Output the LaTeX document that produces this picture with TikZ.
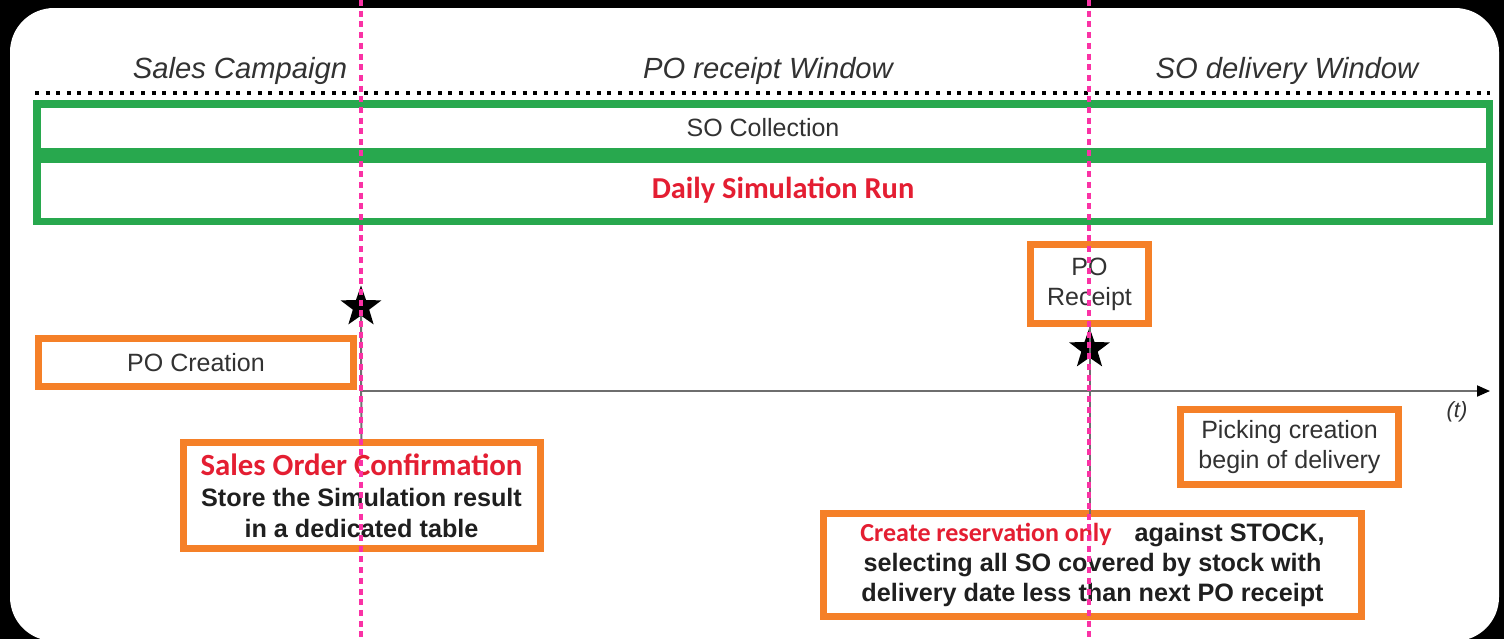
\documentclass[tikz,border=0pt]{standalone}
\usepackage{fontspec}
\setmainfont{Liberation Sans}
\newfontfamily\calibri{Carlito}
\usepackage{tikz}
\usetikzlibrary{arrows.meta}
\usetikzlibrary{positioning}
\usetikzlibrary{shapes.geometric}

\definecolor{campgreen}{RGB}{40,168,78}
\definecolor{taskorange}{RGB}{245,128,40}
\definecolor{markpink}{RGB}{250,50,165}
\definecolor{alertred}{RGB}{228,30,50}
\definecolor{textgray}{RGB}{50,50,50}
\definecolor{axisgray}{RGB}{110,110,110}

\begin{document}
\begin{tikzpicture}[x=0.5pt,y=-0.5pt,
  green box/.style={draw=campgreen,line width=3.75pt,outer sep=0pt,inner sep=0pt,minimum width=726.25pt},
  orange box/.style={draw=taskorange,line width=3.5pt,fill=white,outer sep=0pt,inner sep=0pt,align=center},
  phase/.style={anchor=base,text=textgray,font=\fontsize{14.6}{17}\selectfont\itshape},
  plain text/.style={text=textgray,font=\fontsize{12.5}{15}\selectfont},
  bold text/.style={text=black!88,font=\fontsize{12.6}{15.5}\selectfont\bfseries},
  milestone/.style={star,star points=5,star point ratio=2.5,fill=black,inner sep=0pt,outer sep=0pt,minimum size=21.5pt},
  window line/.style={draw=markpink,line width=2.2pt,dash pattern=on 3pt off 2.35pt},
  time line/.style={draw=axisgray,line width=1pt,-{Triangle[length=6.5pt,width=5.5pt,color=black]}}]

  \useasboundingbox (0,0) rectangle (1504,639);
  \clip (0,0) rectangle (1504,639);
  \fill[black] (0,0) rectangle (1504,639);
  \fill[white,rounded corners=22pt] (10,8) rectangle (1499,641);

  \node[phase] (camp) at (240,78) {Sales Campaign};
  \node[phase] (porw) at (768,78) {PO receipt Window};
  \node[phase] (sodw) at (1287,78) {SO delivery Window};
  \draw[line width=1.7pt,dash pattern=on 2pt off 3.3pt] (35,93) -- (1490,93);

  \node[green box,plain text,minimum height=23.75pt] (collect) at (763,127.5) {SO Collection};
  \node[green box,minimum height=31.25pt,text=alertred,font=\calibri\fontsize{15.2}{17}\selectfont\bfseries]
    (simrun) [below=3.75pt of collect] {\hspace*{20pt}Daily Simulation Run};

  \node[orange box,plain text,minimum width=157.5pt,minimum height=24pt] (pocreate) at (196,362.5) {PO Creation};
  \node[orange box,plain text,minimum width=59pt,minimum height=39.5pt] (porec) at (1089.5,284) {PO\\Receipt};
  \node[milestone] (star1) at (361,307) {};
  \node[milestone] (star2) [below=2pt of porec] {};

  \coordinate (tstart) at (361,391);
  \coordinate (tend) at (1490,391);
  \draw[time line] (tstart) -- (tend);
  \node[text=textgray,font=\fontsize{11}{13}\selectfont\itshape] (tlabel) at (1457,412) {(t)};

  \node[orange box,plain text,minimum width=109pt,minimum height=37.5pt] (picking) at (1289.5,447)
    {Picking creation\\begin of delivery};
  \node[orange box,bold text,minimum width=178.5pt,minimum height=53pt] (socf) at (361.5,495.5)
    {{\calibri\fontsize{15.4}{15.5}\selectfont\color{alertred}Sales Order Confirmation}\\
     Store the Simulation result\\in a dedicated table};
  \node[orange box,bold text,font=\fontsize{12.6}{15}\selectfont\bfseries,minimum width=269pt,minimum height=51.5pt]
    (reserve) at (1092.5,565)
    {{\calibri\fontsize{13}{15}\selectfont\color{alertred}Create reservation only}\hspace{8pt} against STOCK,\\
     selecting all SO covered by stock with\\delivery date less than next PO receipt};

  \draw[axisgray,line width=1pt] (star1) -- (socf);
  \draw[axisgray,line width=1pt] (porec) -- (porec |- reserve.north);

  \draw[window line] (361,0) -- (361,639);
  \draw[window line] (1089,0) -- (1089,639);
\end{tikzpicture}
\end{document}
